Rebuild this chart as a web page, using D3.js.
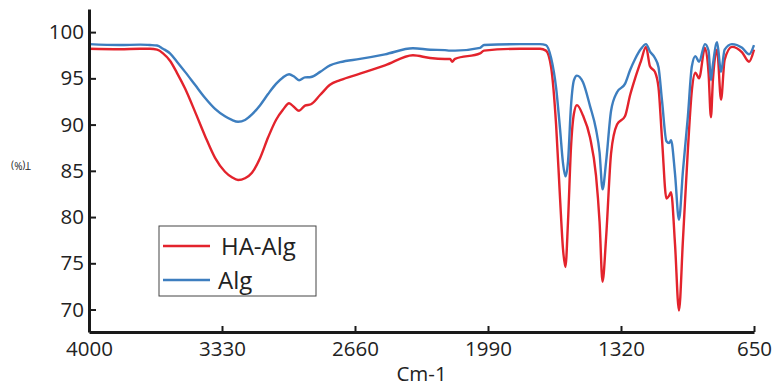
<!DOCTYPE html>
<html>
<head>
<meta charset="utf-8">
<script src="https://cdn.jsdelivr.net/npm/d3@7"></script>
<style>
  body { margin: 0; background: #fff; }
  svg { display: block; font-family: "Open Sans", sans-serif; }
</style>
</head>
<body>
<div id="chart"></div>
<script>
// wavenumber grid (cm-1) shared by both spectra
const wavenumbers = [4000, 3844, 3743, 3693, 3657, 3627, 3592, 3557, 3516, 3466, 3416, 3365, 3315, 3280, 3249, 3214, 3179, 3138, 3098, 3058, 3023, 2992, 2967, 2942, 2912, 2882, 2836, 2786, 2735, 2635, 2509, 2368, 2282, 2207, 2181, 2171, 2156, 2030, 2010, 1829, 1728, 1698, 1672, 1647, 1627, 1612, 1600, 1587, 1572, 1557, 1542, 1512, 1476, 1446, 1428, 1413, 1395, 1370, 1340, 1300, 1274, 1249, 1219, 1194, 1174, 1149, 1131, 1113, 1091, 1078, 1068, 1048, 1028, 1008, 983, 963, 945, 927, 897, 879, 867, 857, 836, 816, 798, 761, 710, 675, 650];

// transmittance (%)
const algT = [98.7, 98.6, 98.65, 98.6, 98.55, 98.2, 97.7, 96.8, 95.7, 94.3, 92.9, 91.7, 90.9, 90.5, 90.3, 90.5, 91.1, 92.1, 93.3, 94.4, 95.1, 95.45, 95.2, 94.8, 95.1, 95.15, 95.7, 96.4, 96.75, 97.1, 97.6, 98.25, 98.1, 98.05, 98.0, 98.0, 98.0, 98.3, 98.6, 98.7, 98.7, 98.6, 97.2, 94.0, 89.5, 85.8, 84.4, 86.0, 92.0, 94.8, 95.3, 94.6, 92.0, 89.5, 87.0, 83.0, 86.0, 91.5, 93.5, 94.4, 95.9, 97.1, 98.2, 98.7, 97.9, 97.2, 96.2, 92.5, 88.2, 88.0, 88.3, 84.7, 79.7, 85.0, 90.9, 96.3, 97.4, 96.8, 98.7, 98.0, 94.8, 96.5, 98.9, 95.7, 98.1, 98.7, 98.3, 97.6, 98.6];

const haAlgT = [98.2, 98.15, 98.2, 98.2, 98.1, 97.7, 96.9, 95.6, 93.9, 91.4, 88.8, 86.4, 84.9, 84.3, 84.0, 84.2, 84.8, 86.4, 88.6, 90.5, 91.6, 92.3, 91.9, 91.5, 92.05, 92.2, 93.2, 94.3, 94.8, 95.5, 96.4, 97.5, 97.2, 97.1, 97.1, 96.8, 97.1, 97.7, 98.0, 98.2, 98.2, 98.0, 96.2, 90.0, 82.0, 76.5, 74.6, 79.5, 87.5, 91.2, 92.1, 91.0, 88.6, 84.5, 79.5, 73.0, 77.8, 86.9, 90.0, 90.9, 93.2, 95.0, 96.9, 98.4, 96.3, 95.7, 94.0, 88.3, 82.0, 82.3, 82.7, 77.1, 69.9, 77.5, 87.3, 93.7, 95.6, 95.0, 98.3, 95.6, 90.8, 94.8, 98.1, 92.7, 97.0, 98.4, 97.8, 96.8, 98.1];

const xTicks = [4000, 3330, 2660, 1990, 1320, 650];
const yTicks = [70, 75, 80, 85, 90, 95, 100];

const seriesNames = ["HA-Alg", "Alg"];
const seriesColors = ["#e3232c", "#3d7ebf"];

const W = 775, H = 386;

const svg = d3.select("#chart")
    .append("svg")
    .attr("width", W)
    .attr("height", H);

const x = d3.scaleLinear()
    .domain([4000, 650])
    .range([89, 754]);

const y = d3.scaleLinear()
    .domain([67.57, 102.5])
    .range([332, 9]);

const line = d3.line()
    .x(d => x(d[0]))
    .y(d => y(d[1]))
    .curve(d3.curveMonotoneX);

// spectra
const series = [haAlgT, algT];
series.forEach((vals, i) => {
    svg.append("path")
        .datum(wavenumbers.map((w, j) => [w, vals[j]]))
        .attr("fill", "none")
        .attr("stroke", seriesColors[i])
        .attr("stroke-width", 2.4)
        .attr("stroke-linejoin", "round")
        .attr("d", line);
});

// x axis
const xAxis = svg.append("g")
    .attr("transform", `translate(0,${y.range()[0]})`)
    .call(d3.axisBottom(x).tickValues(xTicks).tickSizeInner(-6).tickSizeOuter(0).tickPadding(9).tickFormat(d3.format("d")));

// y axis
const yAxis = svg.append("g")
    .attr("transform", `translate(${x.range()[0]},0)`)
    .call(d3.axisLeft(y).tickValues(yTicks).tickSizeInner(-7).tickSizeOuter(0).tickPadding(5));

[xAxis, yAxis].forEach(g => {
    g.select(".domain").attr("stroke", "#1a1a1a").attr("stroke-width", 3);
    g.selectAll(".tick line").attr("stroke", "#1a1a1a").attr("stroke-width", 2);
    g.selectAll(".tick text")
        .attr("fill", "#222")
        .style("font-family", "'Open Sans', sans-serif")
        .style("font-size", "20.5px");
});

// axis titles
svg.append("text")
    .attr("x", (x.range()[0] + x.range()[1]) / 2)
    .attr("y", 381)
    .attr("text-anchor", "middle")
    .attr("fill", "#222")
    .style("font-size", "20.5px")
    .text("Cm-1");

svg.append("text")
    .attr("transform", "translate(21,165) rotate(180)")
    .attr("text-anchor", "middle")
    .attr("dominant-baseline", "middle")
    .attr("fill", "#222")
    .style("font-size", "10px")
    .text("T(%)");

// legend
const legend = svg.append("g").attr("transform", "translate(159,226)");
legend.append("rect")
    .attr("width", 157)
    .attr("height", 70)
    .attr("fill", "#fff")
    .attr("stroke", "#444")
    .attr("stroke-width", 1);

seriesNames.forEach((name, i) => {
    const row = legend.append("g").attr("transform", `translate(0,${20 + i * 34})`);
    row.append("line")
        .attr("x1", 4).attr("x2", 51)
        .attr("stroke", seriesColors[i])
        .attr("stroke-width", 2.4);
    row.append("text")
        .attr("x", i === 0 ? 62 : 59)
        .attr("y", 9)
        .attr("fill", "#222")
        .style("font-size", "24px")
        .text(name);
});
</script>
</body>
</html>
